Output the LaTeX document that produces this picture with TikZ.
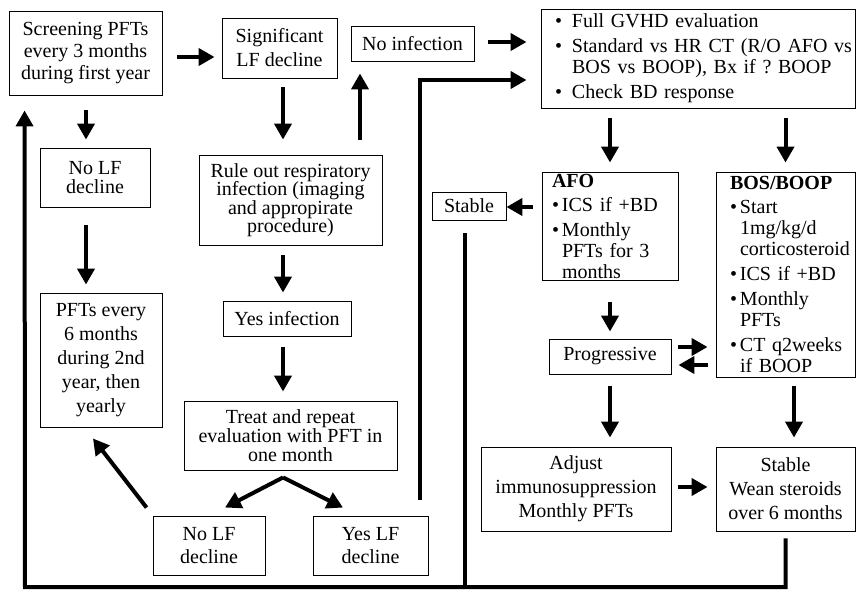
\documentclass[tikz,border=0pt]{standalone}
\usepackage{fontspec}
\setmainfont{Liberation Serif}
\usetikzlibrary{arrows.meta,calc}
\newcommand\mybul{\makebox[10pt][l]{•}}
\newcommand\myind{\hspace*{10pt}}
\newcommand\gbul{\makebox[17pt][l]{•}}
\tikzset{
  box/.style={draw, line width=0.9pt, inner sep=0pt, align=center},
  lead/.style={font=\fontsize{20pt}{#1}\selectfont},
  arr/.style={line width=4pt, -{Triangle[width=17pt,length=16pt]}},
  thickline/.style={line width=4pt},
}
\begin{document}
\begin{tikzpicture}[x=1pt,y=-1pt]
\useasboundingbox (0,0) rectangle (857,592);
% boxes
\node[box, lead=22pt, minimum width=153pt, minimum height=84pt] (scr) at (85.5,53) {Screening PFTs\\every 3 months\\during first year};
\node[box, lead=24pt, minimum width=115pt, minimum height=60pt] (sig) at (279.5,48) {Significant\\LF decline};
\node[box, lead=22pt, minimum width=123pt, minimum height=35pt] (noinf) at (412.5,43.5) {No infection};
\node[box, lead=21pt, minimum width=314pt, minimum height=99pt, text width=286pt, inner xsep=14pt, align=left] (gvhd) at (698,58.5)
  {\mbox{\gbul Full GVHD evaluation}\\[4pt]
   \mbox{\gbul Standard vs HR CT (R/O AFO vs}\\
   \mbox{\hspace*{17pt}BOS vs BOOP), Bx if ?\ BOOP}\\[4pt]
   \mbox{\gbul Check BD response}};
\node[box, lead=19pt, minimum width=110pt, minimum height=59pt] (nolfa) at (95,177.5) {No LF\\decline};
\node[box, lead=18.5pt, minimum width=183pt, minimum height=90pt] (rule) at (290.5,200) {Rule out respiratory\\infection (imaging\\and appropirate\\procedure)};
\node[box, lead=24pt, minimum width=122pt, minimum height=134pt] (pftsix) at (101,360) {PFTs every\\6 months\\during 2nd\\year, then\\yearly};
\node[box, lead=22pt, minimum width=128pt, minimum height=35pt] (yesinf) at (287,318.5) {Yes infection};
\node[box, lead=19pt, minimum width=213pt, minimum height=69pt] (treat) at (290.5,435.5) {Treat and repeat\\evaluation with PFT in\\one month};
\node[box, lead=23pt, minimum width=112pt, minimum height=59pt] (nolfb) at (209,545.5) {No LF\\decline};
\node[box, lead=23pt, minimum width=115pt, minimum height=59pt] (yeslf) at (370.5,545.5) {Yes LF\\decline};
\node[box, lead=22pt, minimum width=74pt, minimum height=28pt] (stablea) at (469,206) {Stable};
\node[box, lead=21pt, minimum width=136pt, minimum height=108pt, text width=116pt, inner xsep=10pt, align=left] (afo) at (610,226)
  {\mbox{\textbf{AFO}}\\[3pt]
   \mbox{\mybul ICS if +BD}\\[4pt]
   \mbox{\mybul Monthly}\\
   \mbox{\myind PFTs for 3}\\
   \mbox{\myind months}};
\node[box, lead=21pt, minimum width=139pt, minimum height=205pt, text width=111pt, inner xsep=14pt, align=left] (bos) at (785.5,274.5)
  {\mbox{\textbf{BOS/BOOP}}\\[3pt]
   \mbox{\mybul Start}\\
   \mbox{\myind 1mg/kg/d}\\
   \mbox{\myind corticosteroid}\\[4pt]
   \mbox{\mybul ICS if +BD}\\[4pt]
   \mbox{\mybul Monthly}\\
   \mbox{\myind PFTs}\\[4pt]
   \mbox{\mybul CT q2weeks}\\
   \mbox{\myind if BOOP}};
\node[box, lead=22pt, minimum width=122pt, minimum height=35pt] (prog) at (610,356.5) {Progressive};
\node[box, lead=24pt, minimum width=190pt, minimum height=84pt] (adjust) at (576,489) {Adjust\\immunosuppression\\Monthly PFTs};
\node[box, lead=24pt, minimum width=139pt, minimum height=84pt] (stableb) at (785.5,489) {Stable\\Wean steroids\\over 6 months};
\coordinate (bl) at (25,587);
% connectors
\draw[arr] ($(scr.east)+(15,4)$) -- ($(sig.west)+(-7,9)$);
\draw[arr] ($(noinf.east)+(14,-1.5)$) -- ($(gvhd.west)+(-14,-16.5)$);
\draw[arr] ($(sig.south)+(3.5,9)$) -- ($(rule.north)+(-7.5,-15)$);
\draw[arr] ($(rule.north)+(69.5,-15)$) -- ($(noinf.south)+(-52.5,12)$);
\draw[arr] ($(scr.south)+(0.5,15)$) -- ($(nolfa.north)+(-9,-8)$);
\draw[arr] ($(nolfa.south)+(-9,18)$) -- ($(pftsix.north)+(-15,-8)$);
\draw[arr] ($(rule.south)+(-7.5,10)$) -- ($(yesinf.north)+(-4,-8)$);
\draw[arr] ($(yesinf.south)+(-4,11)$) -- ($(treat.north)+(-7.5,-9)$);
\draw[arr] ($(treat.south)+(-7.5,7)$) -- ($(nolfb.north)+(16,-8)$);
\draw[arr] ($(treat.south)+(-7.5,7)$) -- ($(yeslf.north)+(-27.5,-8)$);
\draw[arr] ($(nolfb.north west)+(-6,-8)$) -- ($(pftsix.south)+(-8,11)$);
\draw[arr, line join=miter] ($(yeslf.north east)+(-8,-16)$) |- ($(gvhd.west)+(-14,21.5)$);
\draw[arr] ($(gvhd.south -| afo.north)+(0,10)$) -- ($(afo.north)+(0,-9)$);
\draw[arr] ($(gvhd.south -| bos.north)+(0,10)$) -- ($(bos.north)+(0,-9)$);
\draw[arr] ($(afo.west)+(-9,-19)$) -- ($(stablea.east)+(0,1)$);
\draw[arr] ($(afo.south)+(0,22)$) -- ($(prog.north)+(0,-7)$);
\draw[arr] ($(prog.east)+(7,-9.5)$) -- ($(bos.west |- prog.east)+(-8,-9.5)$);
\draw[arr] ($(bos.west |- prog.east)+(-8,8.5)$) -- ($(prog.east)+(7,8.5)$);
\draw[arr] ($(prog.south)+(0,12)$) -- ($(adjust.north -| prog.south)+(0,-9)$);
\draw[arr] ($(adjust.east)+(7,-2)$) -- ($(stableb.west)+(-8,-2)$);
\draw[arr] ($(bos.south)+(8.5,9)$) -- ($(stableb.north)+(8.5,-9)$);
\draw[arr, line join=miter] ($(stableb.south)+(0,7)$) |- (bl) -- ($(scr.south west)+(16,15)$);
\draw[thickline] ($(stablea.south)+(-4,13)$) -- ($(stablea.south |- bl)+(-4,0)$);
\end{tikzpicture}
\end{document}
